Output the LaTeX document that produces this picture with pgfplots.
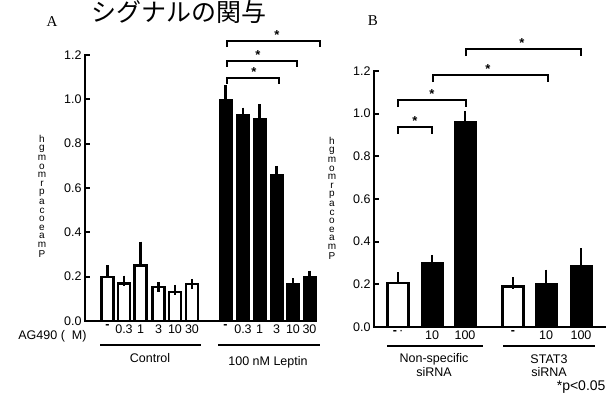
\documentclass[border=0pt]{standalone}
\usepackage{fontspec}
\setmainfont{Liberation Sans}
\newfontfamily\serifA{Liberation Serif}
\newfontfamily\cjk{Noto Sans CJK JP}
\usepackage{pgfplots}
\pgfplotsset{compat=1.18}
\begin{document}
\begin{tikzpicture}
\useasboundingbox (0pt,0pt) rectangle (614pt,401pt);
\pgfplotsset{
  myaxis/.style={
    scale only axis, clip=false,
    axis x line*=bottom, axis y line*=left,
    axis line style={line width=2.8pt,-},
    ymin=0, ymax=1.2,
    ytick={0,0.2,0.4,0.6,0.8,1.0,1.2},
    tick align=inside, major tick length=5pt,
    ytick style={line width=1.8pt, black},
    xtick style={draw=none},
    /pgf/number format/assume math mode=true,
    yticklabel style={/pgf/number format/fixed, /pgf/number format/fixed zerofill, /pgf/number format/precision=1, font=\fontsize{12.5}{12}\selectfont},
    xticklabel style={font=\fontsize{12.5}{12}\selectfont},
  },
  whitebar/.style={ybar, bar shift=0pt, fill=white, draw=black, line width=2.6pt,
    error bars/y dir=plus, error bars/y explicit,
    error bars/error bar style={line width=2.2pt}, error bars/error mark options={line width=2.2pt, mark size=#1}},
  blackbar/.style={ybar, bar shift=0pt, fill=black, draw=black, line width=1pt,
    error bars/y dir=plus, error bars/y explicit,
    error bars/error bar style={line width=2.2pt}, error bars/error mark options={line width=2.2pt, mark size=#1}},
}
% Panel A
\begin{axis}[myaxis, at={(85pt,80pt)}, anchor=south west, width=231pt, height=266pt,
  xmin=85, xmax=316,
  xtick={107.5,124,140.5,158.5,175,192,225.5,243,259.5,276.5,293,309.5},
  xticklabels={\textbf{-},0.3,1,3,10,30,\textbf{-},0.3,1,3,10,30}]
\addplot[whitebar=5pt, bar width=12] table[x=x,y=y,y error=e] {
x y e
107.5 0.198 0.03
124 0.170 0.012
140.5 0.250 0.085
158.5 0.153 0.0
175 0.130 0.01
192 0.167 0.0
};
\addplot[blackbar=5pt, bar width=13] table[x=x,y=y,y error=e] {
x y e
225.5 0.997 0.043
243 0.930 0.010
259.5 0.915 0.040
276.5 0.660 0.017
293 0.167 0.004
309.5 0.200 0.005
};
\draw[line width=2.8pt, line cap=rect] (axis cs:85,1.2) -- (axis cs:85,0) -- (axis cs:316,0);
\draw[line width=1.6pt] (axis cs:227,1.069) |- (axis cs:279,1.096) -- (axis cs:279,1.069);
\draw[line width=1.6pt] (axis cs:227,1.146) |- (axis cs:297,1.173) -- (axis cs:297,1.146);
\draw[line width=1.6pt] (axis cs:227,1.236) |- (axis cs:320,1.263) -- (axis cs:320,1.236);
\node[anchor=south, inner sep=1pt, font=\bfseries\fontsize{13}{13}\selectfont] at (axis cs:254,1.096) {*};
\node[anchor=south, inner sep=1pt, font=\bfseries\fontsize{13}{13}\selectfont] at (axis cs:258,1.173) {*};
\node[anchor=south, inner sep=1pt, font=\bfseries\fontsize{13}{13}\selectfont] at (axis cs:277,1.263) {*};
\end{axis}
% Panel B
\begin{axis}[myaxis, at={(374pt,74pt)}, anchor=south west, width=231pt, height=256pt,
  xmin=374, xmax=605,
  xtick={398,432,465,513,546,581},
  xticklabels={\textbf{-}\,\textperiodcentered,10,100,\textbf{-},10,100}]
\addplot[whitebar=6pt, bar width=21] table[x=x,y=y,y error=e] {
x y e
398 0.206 0.022
513 0.190 0.015
};
\addplot[blackbar=6pt, bar width=22] table[x=x,y=y,y error=e] {
x y e
432 0.300 0.010
465 0.965 0.020
546 0.206 0.035
581 0.290 0.050
};
\draw[line width=2.4pt, line cap=rect] (axis cs:374,1.2) -- (axis cs:374,0) -- (axis cs:605,0);
\draw[line width=1.6pt] (axis cs:398,0.905) |- (axis cs:432,0.938) -- (axis cs:432,0.905);
\draw[line width=1.6pt] (axis cs:398,1.031) |- (axis cs:466,1.064) -- (axis cs:466,1.031);
\draw[line width=1.6pt] (axis cs:433,1.148) |- (axis cs:548,1.181) -- (axis cs:548,1.148);
\draw[line width=1.6pt] (axis cs:466,1.270) |- (axis cs:581,1.303) -- (axis cs:581,1.270);
\node[anchor=south, inner sep=1pt, font=\bfseries\fontsize{13}{13}\selectfont] at (axis cs:415,0.938) {*};
\node[anchor=south, inner sep=1pt, font=\bfseries\fontsize{13}{13}\selectfont] at (axis cs:432,1.064) {*};
\node[anchor=south, inner sep=1pt, font=\bfseries\fontsize{13}{13}\selectfont] at (axis cs:488,1.181) {*};
\node[anchor=south, inner sep=1pt, font=\bfseries\fontsize{13}{13}\selectfont] at (axis cs:522,1.303) {*};
\end{axis}
% Title and panel letters
\node[font=\cjk\fontsize{25}{25}\selectfont] at (179pt,389pt) {シグナルの関与};
\node[font=\serifA\fontsize{15}{15}\selectfont] at (52pt,379pt) {A};
\node[font=\serifA\fontsize{15}{15}\selectfont] at (373pt,380pt) {B};
% garbled y labels
\node[font=\fontsize{10}{14.5}\selectfont, align=center, inner sep=0pt] at (42pt,205pt) {\shortstack{h\\g\\m\\o\\m\\r\\p\\a\\c\\o\\e\\a\\m\\P}};
\node[font=\fontsize{10}{14}\selectfont, align=center, inner sep=0pt] at (332pt,203pt) {\shortstack{h\\g\\m\\o\\m\\r\\p\\a\\c\\o\\e\\a\\m\\P}};
% AG490 label
\node[font=\fontsize{12.5}{12}\selectfont, anchor=east] at (90pt,65pt) {AG490 (\ \ M)};
% underlines
\draw[line width=1.8pt] (100pt,56pt) -- (201pt,56pt);
\draw[line width=1.8pt] (218pt,56pt) -- (320pt,56pt);
\draw[line width=1.8pt] (387pt,55pt) -- (483pt,55pt);
\draw[line width=1.8pt] (503pt,55pt) -- (595pt,55pt);
% group labels
\node[font=\fontsize{12.5}{12}\selectfont] at (150pt,43pt) {Control};
\node[font=\fontsize{12.5}{12}\selectfont] at (268pt,39pt) {100 nM Leptin};
\node[font=\fontsize{12.5}{12}\selectfont] at (434pt,42pt) {Non-specific};
\node[font=\fontsize{12.5}{12}\selectfont] at (434pt,29pt) {siRNA};
\node[font=\fontsize{12.5}{12}\selectfont] at (549pt,42pt) {STAT3};
\node[font=\fontsize{12.5}{12}\selectfont] at (549pt,29pt) {siRNA};
\node[font=\fontsize{14}{14}\selectfont, anchor=east] at (609pt,14pt) {*p<0.05};
\end{tikzpicture}
\end{document}
